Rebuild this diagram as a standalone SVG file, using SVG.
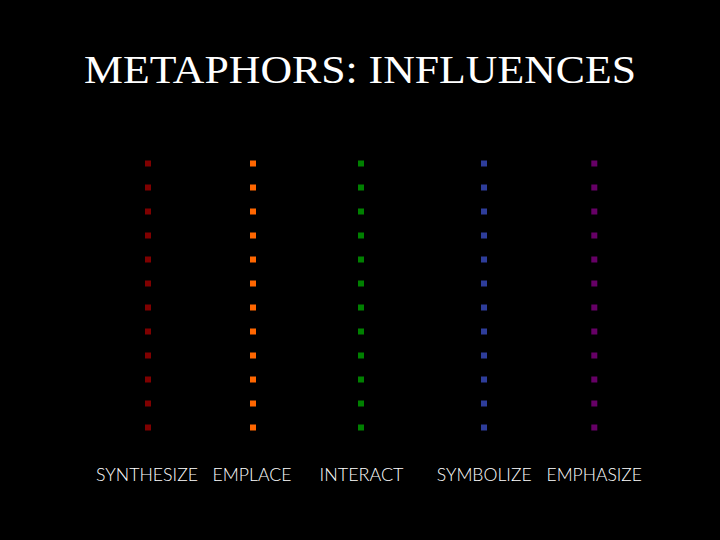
<svg xmlns="http://www.w3.org/2000/svg" xmlns:xlink="http://www.w3.org/1999/xlink" width="720" height="540" viewBox="0 0 720 540">
<style>
.title{font-family:"Liberation Serif","Times New Roman",serif;font-size:39px;fill:#ffffff}
.lbl{font-family:"Lato","Liberation Sans",sans-serif;font-size:17px;font-weight:300;fill:#ffffff}
</style>
<defs>
<g id="col">
<rect x="-3" y="160.5" width="6" height="6"/>
<rect x="-3" y="184.5" width="6" height="6"/>
<rect x="-3" y="208.5" width="6" height="6"/>
<rect x="-3" y="232.5" width="6" height="6"/>
<rect x="-3" y="256.5" width="6" height="6"/>
<rect x="-3" y="280.5" width="6" height="6"/>
<rect x="-3" y="304.5" width="6" height="6"/>
<rect x="-3" y="328.5" width="6" height="6"/>
<rect x="-3" y="352.5" width="6" height="6"/>
<rect x="-3" y="376.5" width="6" height="6"/>
<rect x="-3" y="400.5" width="6" height="6"/>
<rect x="-3" y="424.5" width="6" height="6"/>
</g>
</defs>
<rect width="720" height="540" fill="#000000"/>
<text class="title" x="84" y="83" textLength="552" lengthAdjust="spacingAndGlyphs">METAPHORS: INFLUENCES</text>
<g id="synthesize">
<use xlink:href="#col" href="#col" x="148" fill="#7f0000"/>
<text class="lbl" x="96" y="481" textLength="102" lengthAdjust="spacingAndGlyphs">SYNTHESIZE</text>
</g>
<g id="emplace">
<use xlink:href="#col" href="#col" x="253" fill="#ff6600"/>
<text class="lbl" x="212.5" y="481" textLength="79" lengthAdjust="spacingAndGlyphs">EMPLACE</text>
</g>
<g id="interact">
<use xlink:href="#col" href="#col" x="361" fill="#008000"/>
<text class="lbl" x="319.5" y="481" textLength="84" lengthAdjust="spacingAndGlyphs">INTERACT</text>
</g>
<g id="symbolize">
<use xlink:href="#col" href="#col" x="484" fill="#2e3d9a"/>
<text class="lbl" x="436.7" y="481" textLength="95" lengthAdjust="spacingAndGlyphs">SYMBOLIZE</text>
</g>
<g id="emphasize">
<use xlink:href="#col" href="#col" x="594.3" fill="#660066"/>
<text class="lbl" x="546.5" y="481" textLength="95.5" lengthAdjust="spacingAndGlyphs">EMPHASIZE</text>
</g>
<g id="connectors"/>
</svg>
